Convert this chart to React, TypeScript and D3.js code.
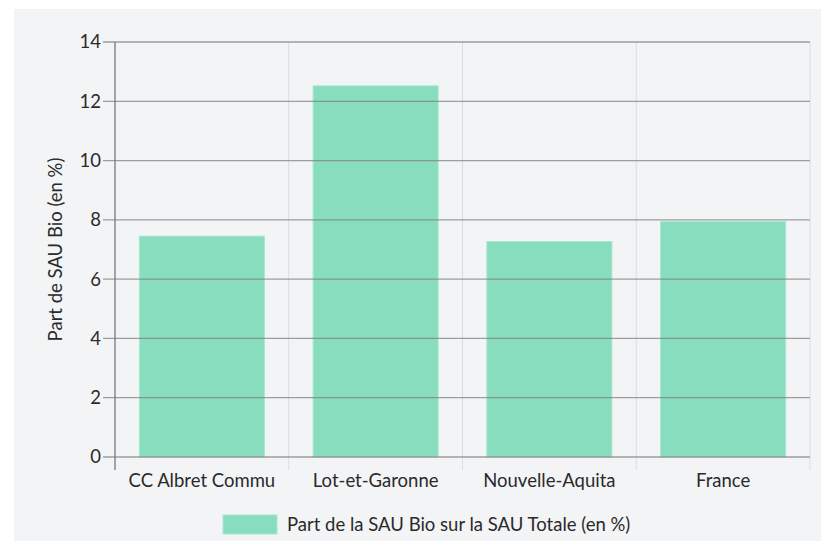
import React from "react";
import * as d3 from "d3";

const categories = ["CC Albret Commu", "Lot-et-Garonne", "Nouvelle-Aquita", "France"];
const values = [7.45, 12.52, 7.27, 7.94];
const yTicks = [0, 2, 4, 6, 8, 10, 12, 14];
const seriesName = "Part de la SAU Bio sur la SAU Totale (en %)";
const yTitle = "Part de SAU Bio (en %)";

const W = 821;
const H = 541;
const left = 115;
const right = 810;
const top = 42;
const bottom = 457;
const FONT = "Lato, 'Open Sans', sans-serif";

export default function App() {
  const x = d3.scaleBand<string>().domain(categories).range([left, right]).paddingInner(0.28).paddingOuter(0.14);
  const xb = d3.scaleBand<string>().domain(categories).range([left, right]);
  const y = d3.scaleLinear().domain([0, 14]).range([bottom, top]);
  return (
    <svg width={W} height={H} style={{ position: "fixed", left: 0, top: 0, display: "block" }}>
      <rect x={0} y={0} width={W} height={H} fill="#ffffff" />
      <rect x={14} y={9} width={W - 14} height={H - 9} fill="#f3f4f6" />
      {categories.map((c, i) => (
        <line key={"v" + i} x1={(xb(c) as number) + xb.bandwidth()} x2={(xb(c) as number) + xb.bandwidth()} y1={top} y2={470} stroke="#dcdcdc" strokeWidth={1} />
      ))}
      {categories.map((c, i) => (
        <rect key={"b" + i} x={x(c)} y={y(values[i])} width={x.bandwidth()} height={bottom - y(values[i])} fill="#87ddbe" stroke="#a8e8d1" strokeWidth={1} />
      ))}
      {yTicks.map((t) => (
        <g key={"g" + t}>
          <line x1={103} x2={right} y1={y(t)} y2={y(t)} stroke="#808080" strokeOpacity={0.75} strokeWidth={1.3} />
          <text x={101} y={y(t)} dy="0.35em" textAnchor="end" fontFamily={FONT} fontSize={18.5} fill="#2a2a2a">{t}</text>
        </g>
      ))}
      <line x1={left} x2={left} y1={top} y2={470} stroke="#777" strokeWidth={1.3} />
      {categories.map((c, i) => (
        <text key={"c" + i} x={(xb(c) as number) + xb.bandwidth() / 2} y={481} dy="0.35em" textAnchor="middle" fontFamily={FONT} fontSize={18.5} fill="#2a2a2a">{c}</text>
      ))}
      <text transform={`translate(56,${(top + bottom) / 2}) rotate(-90)`} textAnchor="middle" dy="0.35em" fontFamily={FONT} fontSize={18.5} fill="#2a2a2a">{yTitle}</text>
      <rect x={223} y={515} width={54} height={19} fill="#87ddbe" stroke="#a8e8d1" strokeWidth={1} />
      <text x={287} y={525} dy="0.35em" fontFamily={FONT} fontSize={18.5} fill="#2a2a2a">{seriesName}</text>
    </svg>
  );
}
